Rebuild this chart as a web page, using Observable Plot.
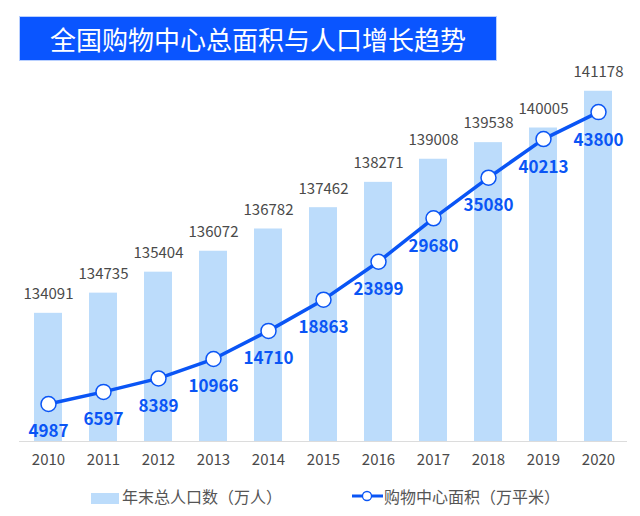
<!DOCTYPE html>
<html>
<head>
<meta charset="utf-8">
<script src="https://cdn.jsdelivr.net/npm/d3@7"></script>
<script src="https://cdn.jsdelivr.net/npm/@observablehq/plot@0.6"></script>
<style>
  html, body { margin: 0; padding: 0; background: #fff; }
  body { font-family: "Noto Sans CJK SC", "Noto Sans", sans-serif; }
  #wrap { position: relative; width: 640px; height: 516px; overflow: hidden; }
  #banner { position: absolute; left: 20px; top: 17px; width: 476px; height: 43px;
    background: #0a55ff; box-shadow: 0 0 0 1px #b9d0ff; color: #fff; font-size: 26px;
    line-height: 43px; text-align: center; letter-spacing: 0px; }
  .layer { position: absolute; left: 0; top: 0; }
  #legend { position: absolute; left: 0; top: 484px; width: 640px; height: 24px; font-size: 16px; color: #555; }
  .lg { position: absolute; top: 0; height: 24px; line-height: 24px; white-space: nowrap; }
</style>
</head>
<body>
<div id="wrap">
  <div id="banner">全国购物中心总面积与人口增长趋势</div>
  <div id="bars" class="layer"></div>
  <div id="line" class="layer"></div>
  <div id="legend">
    <div class="lg" style="left:91px;"><span style="display:inline-block;width:28px;height:11px;background:#bcdcfb;vertical-align:-1px;margin-right:3px;"></span>年末总人口数（万人）</div>
    <div class="lg" style="left:352px;"><svg width="32" height="24" style="vertical-align:top"><line x1="0" y1="12" x2="31" y2="12" stroke="#0a55f5" stroke-width="3"/><circle cx="15" cy="12" r="4.5" fill="#fff" stroke="#0a55f5" stroke-width="1.3"/></svg>购物中心面积（万平米）</div>
  </div>
</div>
<script>
const years = ["2010","2011","2012","2013","2014","2015","2016","2017","2018","2019","2020"];
const population = [134091,134735,135404,136072,136782,137462,138271,139008,139538,140005,141178];
const mallArea = [4987,6597,8389,10966,14710,18863,23899,29680,35080,40213,43800];

const data = years.map((y, i) => ({year: y, pop: population[i], area: mallArea[i]}));

const W = 640, H = 480;
const common = {
  width: W, height: H,
  marginLeft: 19, marginRight: 13, marginTop: 65, marginBottom: 39,
  style: {fontFamily: '"Noto Sans CJK SC", "Noto Sans", sans-serif', background: "transparent", overflow: "visible"},
  x: {type: "band", domain: years, paddingInner: 0.5, paddingOuter: 0.25}
};

const barBlue = "#bcdcfb";
const lineBlue = "#0a55f5";

const bars = Plot.plot({
  ...common,
  y: {domain: [130000, 142000], axis: null},
  marks: [
    Plot.barY(data, {x: "year", y1: 130000, y2: "pop", fill: barBlue}),
    Plot.ruleY([130000], {stroke: "#dcdcdc", strokeWidth: 1}),
    Plot.text(data, {x: "year", y: "pop", text: d => String(d.pop), dy: -19, fontSize: 15, fill: "#4a4a4a"}),
    Plot.axisX({tickSize: 0, tickPadding: 13, fontSize: 15, color: "#4a4a4a", label: null})
  ]
});
document.getElementById("bars").appendChild(bars);

const line = Plot.plot({
  ...common,
  y: {domain: [0, 50000], axis: null},
  x: {...common.x, axis: null},
  marks: [
    Plot.line(data, {x: "year", y: "area", stroke: lineBlue, strokeWidth: 3.5}),
    Plot.dot(data, {x: "year", y: "area", r: 7.5, fill: "#fff", stroke: lineBlue, strokeWidth: 1.5}),
    Plot.text(data, {x: "year", y: "area", text: d => String(d.area), dy: 28, fontSize: 17, fontWeight: "bold", fill: lineBlue})
  ]
});
document.getElementById("line").appendChild(line);
</script>
</body>
</html>
